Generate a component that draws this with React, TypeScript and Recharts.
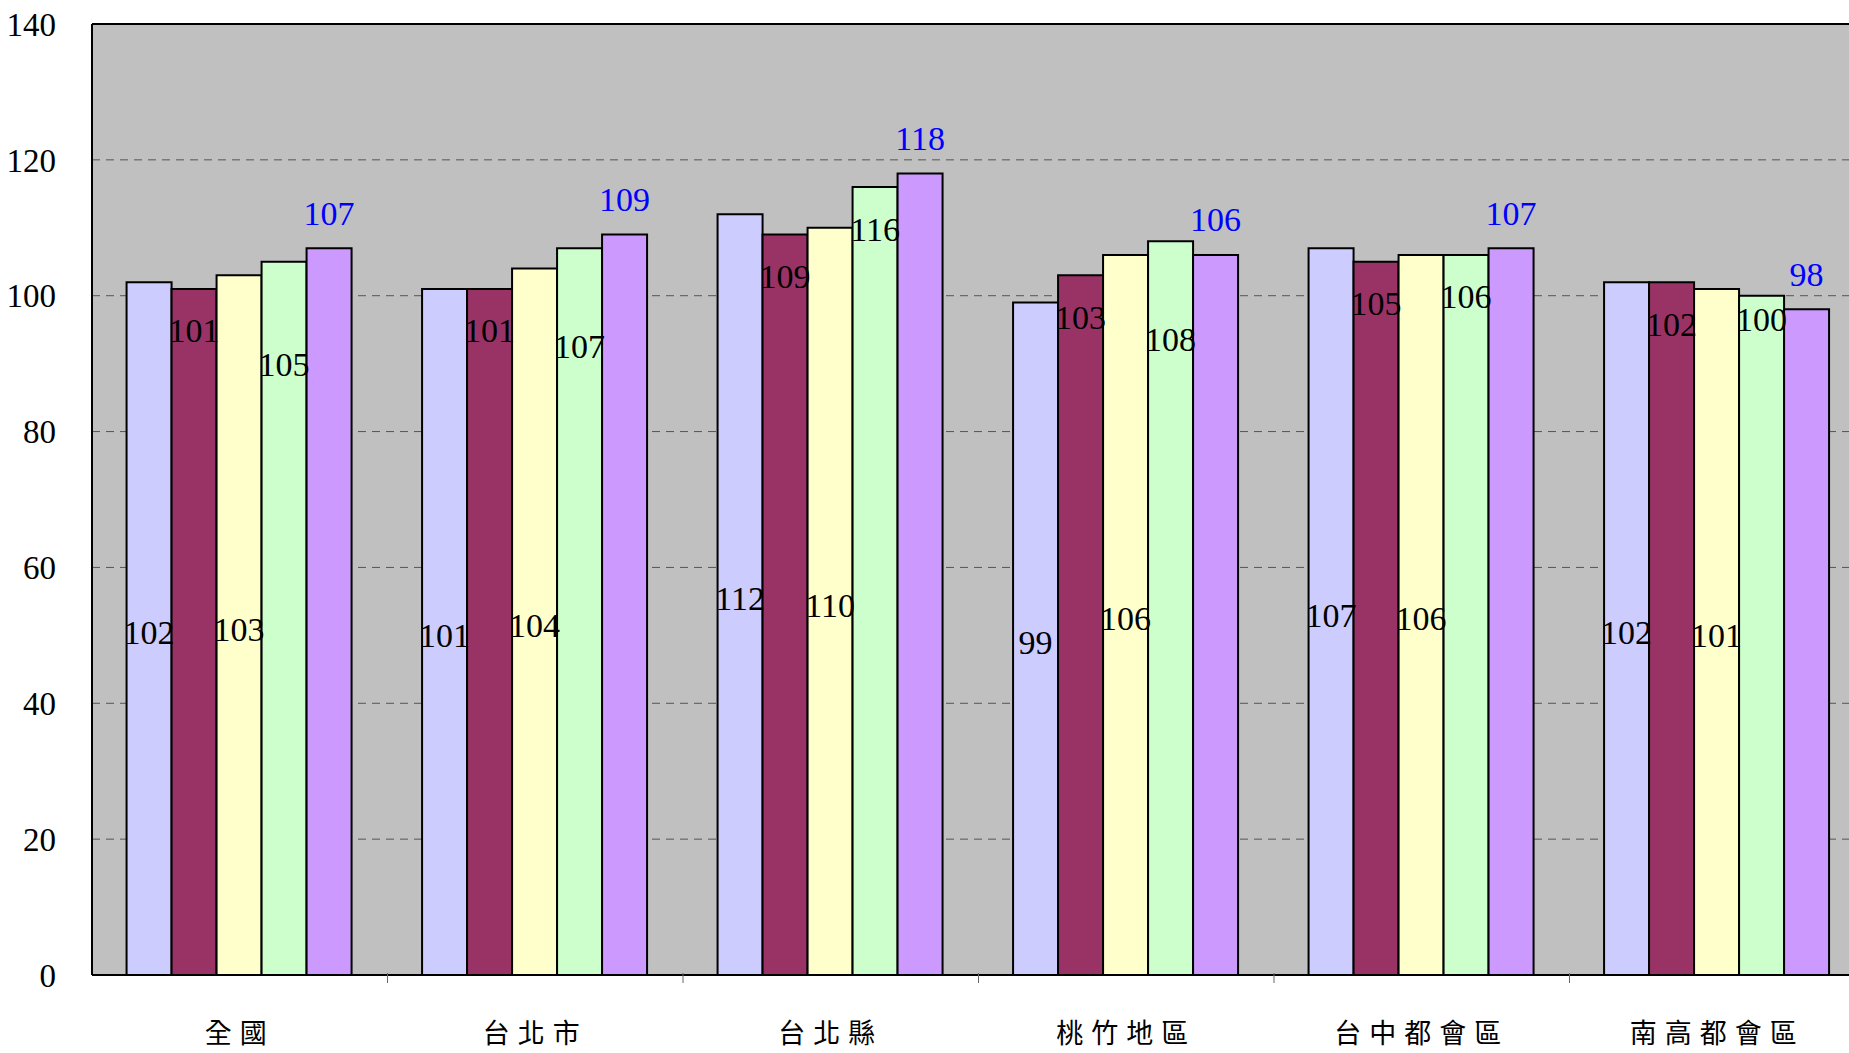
import React from "react";
import {
  BarChart,
  Bar,
  XAxis,
  YAxis,
  CartesianGrid,
  ReferenceLine,
  LabelList,
} from "recharts";

const categories = ["全國", "台北市", "台北縣", "桃竹地區", "台中都會區", "南高都會區"];
const s1 = [102, 101, 112, 99, 107, 102];
const s2 = [101, 101, 109, 103, 105, 102];
const s3 = [103, 104, 110, 106, 106, 101];
const s4 = [105, 107, 116, 108, 106, 100];
const s5 = [107, 109, 118, 106, 107, 98];
const yTicks = [0, 20, 40, 60, 80, 100, 120, 140];

const data = categories.map((name, i) => ({
  name,
  s1: s1[i],
  s2: s2[i],
  s3: s3[i],
  s4: s4[i],
  s5: s5[i],
}));

const W = 1849;
const H = 1053;
const LEFT = 92;
const RIGHT = -16;
const BAND = (W - LEFT - RIGHT) / categories.length;
const s4Drop = [103, 98, 42, 98, 42, 24];
const FONT = "'Liberation Serif', serif";

const txt = (x: number, y: number, v: any, fill = "#000") => (
  <text x={x} y={y} textAnchor="middle" dominantBaseline="central" fontSize={34} fontFamily={FONT} fill={fill}>
    {v}
  </text>
);

const midLabel = (p: any) => txt(p.x + p.width / 2, p.y + p.height / 2 + 4, p.value);
const topLabel = (p: any) => txt(p.x + p.width / 2, p.y + 42, p.value);
const s4Label = (p: any) => txt(p.x + p.width / 2, p.y + s4Drop[p.index], p.value);
const aboveLabel = (p: any) => txt(p.x + p.width / 2, p.y - 35, p.value, "#0000FF");

const CatTick = (p: any) => {
  const { x, y, payload } = p;
  return (
    <g>
      <line x1={x + BAND / 2} x2={x + BAND / 2} y1={y - 10} y2={y} stroke="#666" />
      <text x={x} y={y + 60} textAnchor="middle" fontSize={27} fontFamily="'Noto Sans CJK TC'" letterSpacing={8}>
        {payload.value}
      </text>
    </g>
  );
};

export default function App() {
  const bar = (key: string, fill: string, label: any) => (
    <Bar dataKey={key} fill={fill} stroke="#000" strokeWidth={2} isAnimationActive={false}>
      <LabelList dataKey={key} content={label} />
    </Bar>
  );
  return (
    <div style={{ position: "absolute", left: 0, top: 0, width: W, height: H, overflow: "hidden", background: "#fff" }}>
      <BarChart
        width={W}
        height={H}
        data={data}
        margin={{ top: 24, right: RIGHT, left: 0, bottom: 0 }}
        barCategoryGap="11.7%"
        barGap={0}
      >
        <CartesianGrid vertical={false} fill="#C0C0C0" stroke="#555" strokeDasharray="8 6" />
        <XAxis
          dataKey="name"
          height={78}
          axisLine={{ stroke: "#000", strokeWidth: 2 }}
          tickLine={false}
          tick={<CatTick />}
          interval={0}
        />
        <YAxis
          width={LEFT}
          domain={[0, 140]}
          ticks={yTicks}
          axisLine={{ stroke: "#000", strokeWidth: 2 }}
          tickLine={false}
          tick={{ fill: "#000", fontSize: 33, fontFamily: FONT, dx: -28 }}
        />
        <ReferenceLine y={140} stroke="#000" strokeWidth={2} />
        {bar("s1", "#CCCCFF", midLabel)}
        {bar("s2", "#993366", topLabel)}
        {bar("s3", "#FFFFCC", midLabel)}
        {bar("s4", "#CCFFCC", s4Label)}
        {bar("s5", "#CC99FF", aboveLabel)}
      </BarChart>
    </div>
  );
}
